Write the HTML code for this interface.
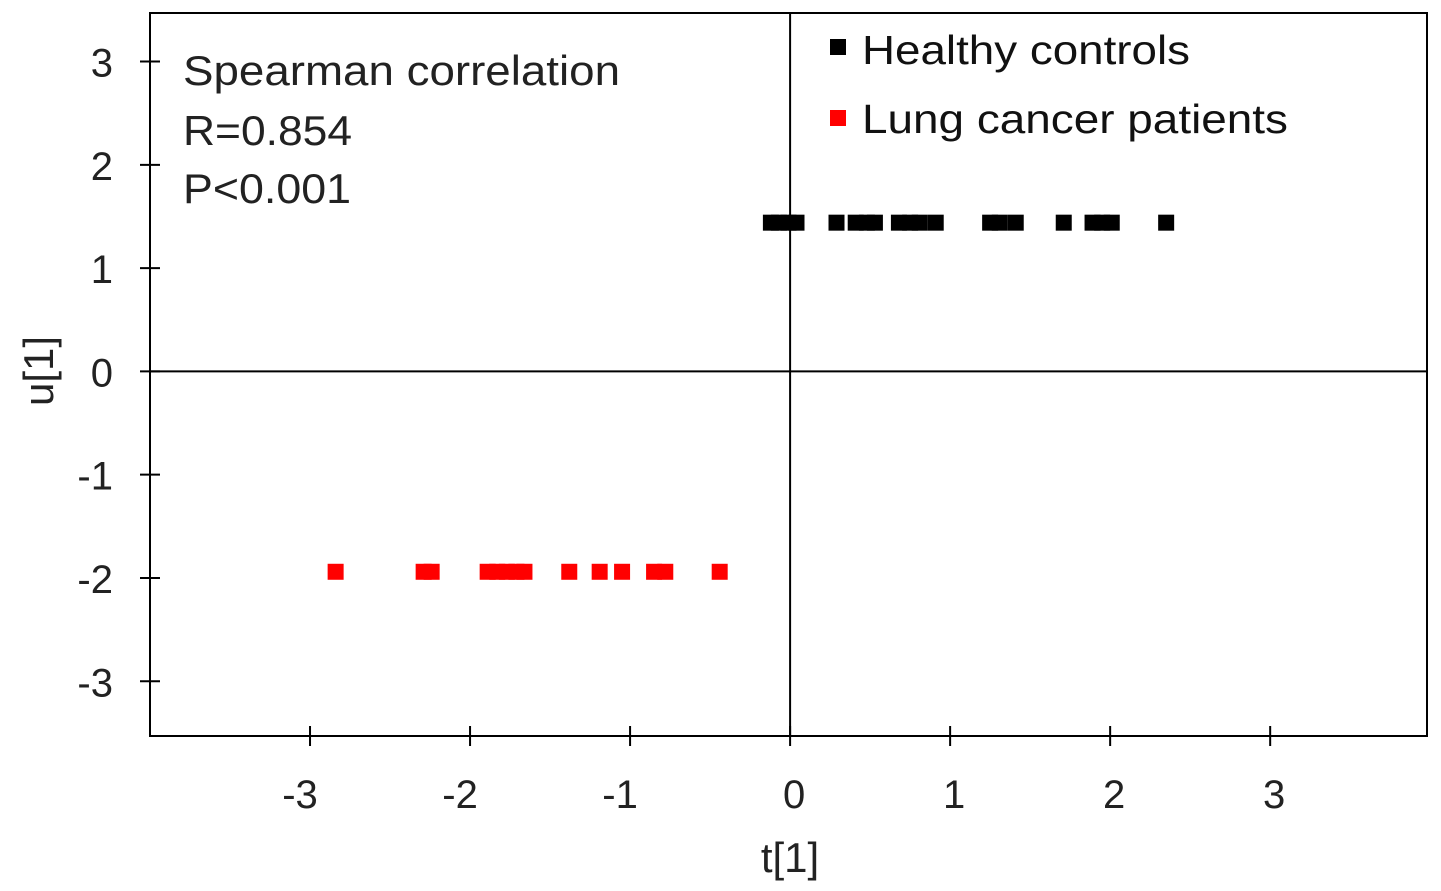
<!DOCTYPE html>
<html><head><meta charset="utf-8"><style>
html,body{margin:0;padding:0;background:#fff;}
svg{display:block;font-family:"Liberation Sans",sans-serif;}
</style></head><body>
<svg id="chart" width="1441" height="891" viewBox="0 0 1441 891">
<rect x="0" y="0" width="1441" height="891" fill="#fff"/>
<g id="axes"></g>
<g id="marks"></g>
<text x="183" y="85" font-size="42" textLength="437" lengthAdjust="spacingAndGlyphs" fill="#222">Spearman correlation</text>
<text x="183" y="145" font-size="42" textLength="169" lengthAdjust="spacingAndGlyphs" fill="#222">R=0.854</text>
<text x="183" y="203" font-size="42" textLength="168" lengthAdjust="spacingAndGlyphs" fill="#222">P&lt;0.001</text>
<g>
<rect x="830" y="39" width="16" height="16" fill="#000"/>
<text x="862" y="64" font-size="41" textLength="328" lengthAdjust="spacingAndGlyphs" fill="#111">Healthy controls</text>
<rect x="830" y="110" width="16" height="16" fill="#f00"/>
<text x="862" y="133" font-size="41" textLength="426" lengthAdjust="spacingAndGlyphs" fill="#111">Lung cancer patients</text>
</g>
<text x="790" y="872" font-size="42" text-anchor="middle" fill="#222">t[1]</text>
<text x="0" y="0" font-size="42" text-anchor="middle" fill="#222" transform="translate(53,371) rotate(-90)">u[1]</text>
</svg>
<script>
const healthyT = [-0.12,-0.07,-0.01,0.04,0.29,0.41,0.48,0.53,0.68,0.75,0.81,0.91,1.25,1.31,1.41,1.71,1.89,1.95,2.01,2.35];
const healthyU = [1.44,1.44,1.44,1.44,1.44,1.44,1.44,1.44,1.44,1.44,1.44,1.44,1.44,1.44,1.44,1.44,1.44,1.44,1.44,1.44];
const cancerT = [-2.84,-2.29,-2.24,-1.89,-1.83,-1.77,-1.71,-1.66,-1.38,-1.19,-1.05,-0.85,-0.78,-0.44];
const cancerU = [-1.94,-1.94,-1.94,-1.94,-1.94,-1.94,-1.94,-1.94,-1.94,-1.94,-1.94,-1.94,-1.94,-1.94];
const xTicks = [-3,-2,-1,0,1,2,3];
const yTicks = [3,2,1,0,-1,-2,-3];

const X0=150,X1=1427,Y0=13,Y1=736;
const xMin=-4.0,xMax=3.98,yMin=-3.53,yMax=3.47;
const sx=v=>X0+(v-xMin)/(xMax-xMin)*(X1-X0);
const sy=v=>Y1-(v-yMin)/(yMax-yMin)*(Y1-Y0);
const NS="http://www.w3.org/2000/svg";
const axes=document.getElementById('axes'), marks=document.getElementById('marks');
function mk(tag,attrs,parent){const e=document.createElementNS(NS,tag);for(const k in attrs)e.setAttribute(k,attrs[k]);parent.appendChild(e);return e;}

const frame=mk('rect',{x:X0,y:Y0,width:X1-X0,height:Y1-Y0,fill:'none',stroke:'#000','stroke-width':2},axes);


const vz=mk('line',{x1:sx(0),x2:sx(0),y1:Y0,y2:Y1,stroke:'#000','stroke-width':2},axes);


const hz=mk('line',{x1:X0,x2:X1,y1:sy(0),y2:sy(0),stroke:'#000','stroke-width':2},axes);



xTicks.forEach(t=>{
  const l=mk('line',{x1:sx(t),x2:sx(t),y1:Y1-10,y2:Y1+10,stroke:'#000','stroke-width':2},axes);
  
  
  const tx=mk('text',{x:sx(t)+(t<0?-10:4),y:808,'font-size':40,'text-anchor':'middle',fill:'#222'},axes);
  tx.textContent=t;
  
  
});
yTicks.forEach(t=>{
  const l=mk('line',{x1:X0-10,x2:X0+10,y1:sy(t),y2:sy(t),stroke:'#000','stroke-width':2},axes);
  
  
  const tx=mk('text',{x:113,y:sy(t)+15,'font-size':40,'text-anchor':'end',fill:'#222'},axes);
  tx.textContent=t;
  
  
});
healthyT.forEach((t,i)=>{
  const r=mk('rect',{x:sx(t)-8,y:sy(healthyU[i])-8,width:16,height:16,fill:'#000'},marks);
  
  
});
cancerT.forEach((t,i)=>{
  const r=mk('rect',{x:sx(t)-8,y:sy(cancerU[i])-8,width:16,height:16,fill:'#f00'},marks);
  
  
});
</script>
</body></html>
